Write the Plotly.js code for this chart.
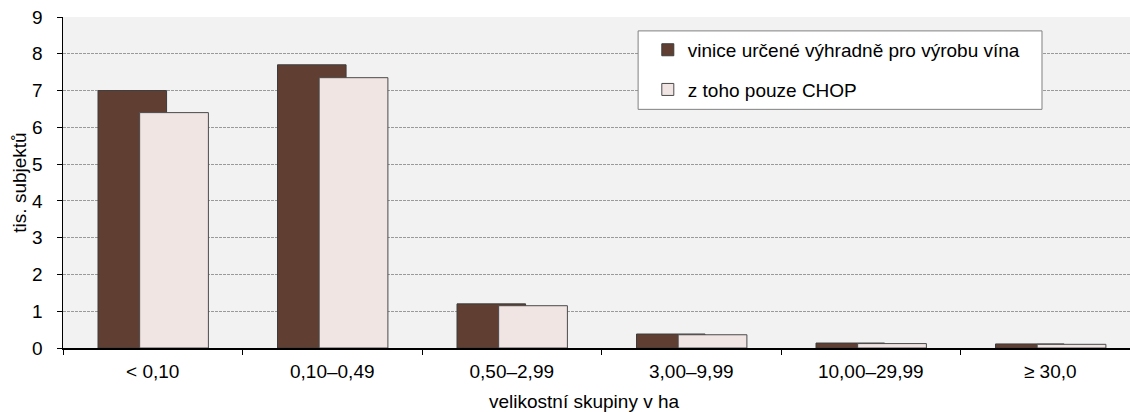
<!DOCTYPE html>
<html>
<head>
<meta charset="utf-8">
<script src="https://cdn.plot.ly/plotly-3.0.1.min.js"></script>
<style>
html,body{margin:0;padding:0;overflow:hidden;background:#fff;}
#chart{width:1140px;height:412px;}
</style>
</head>
<body>
<div id="chart"></div>
<script>
const categories = ['< 0,10', '0,10–0,49', '0,50–2,99', '3,00–9,99', '10,00–29,99', '≥ 30,0'];
const seriesNames = ['vinice určené výhradně pro výrobu vína', 'z toho pouze CHOP'];
const vinice = [7.0, 7.7, 1.2, 0.38, 0.135, 0.11];
const chop = [6.4, 7.35, 1.15, 0.36, 0.12, 0.10];
const yTitle = 'tis. subjektů';
const xTitle = 'velikostní skupiny v ha';

const FONT = 'Liberation Sans, Arial, sans-serif';

const traces = [
  {
    type: 'bar', name: seriesNames[0], x: categories, y: vinice,
    offset: -0.305, width: 0.382, legendgroup: 'a',
    marker: {color: '#603f32', line: {color: '#3c3c3c', width: 1}},
    hoverinfo: 'x+y'
  },
  {
    type: 'bar', name: seriesNames[1], x: categories, y: chop,
    offset: -0.073, width: 0.383, legendgroup: 'b',
    marker: {color: '#f0e5e3', line: {color: '#4a4a4a', width: 1}},
    hoverinfo: 'x+y'
  }
];

const layout = {
  width: 1140, height: 412,
  margin: {l: 63, r: 0, t: 17, b: 64, pad: 0},
  paper_bgcolor: '#ffffff',
  plot_bgcolor: '#f2f2f2',
  font: {family: FONT, size: 19, color: '#000'},
  barmode: 'overlay',
  showlegend: true,
  legend: {
    x: 0.543, xanchor: 'left', y: 0.958, yanchor: 'top',
    bgcolor: 'rgba(0,0,0,0)', borderwidth: 0,
    font: {family: FONT, size: 19, color: '#000'},
    traceorder: 'grouped', tracegroupgap: 12, itemwidth: 30
  },
  xaxis: {
    type: 'category', tickson: 'boundaries',
    ticks: 'outside', ticklen: 5, tickcolor: '#000', tickwidth: 1,
    showline: true, linecolor: '#000', linewidth: 1.5,
    showgrid: false, zeroline: false,
    ticklabelstandoff: 6,
    tickfont: {family: FONT, size: 19, color: '#000'},
    range: [-0.5, 5.5], fixedrange: true
  },
  yaxis: {
    range: [0, 9], dtick: 1, tick0: 0,
    ticks: 'outside', ticklen: 5, tickcolor: '#000',
    showline: true, linecolor: '#000', linewidth: 1.5,
    showgrid: true, gridcolor: '#9a9a9a', gridwidth: 1, griddash: '3px,1px',
    zeroline: false,
    ticklabelstandoff: 10,
    tickfont: {family: FONT, size: 19, color: '#000'},
    title: {text: yTitle, font: {family: FONT, size: 19, color: '#000'}, standoff: 0},
    automargin: false, fixedrange: true
  },
  shapes: [
    {type: 'rect', xref: 'paper', yref: 'paper',
     x0: 0.534, x1: 0.909, y0: 0.721, y1: 0.958,
     fillcolor: '#ffffff', line: {color: '#808080', width: 1}, layer: 'above'}
  ],
  annotations: [
    {text: xTitle, xref: 'paper', yref: 'paper', x: 0.4838, y: -0.162,
     xanchor: 'center', yanchor: 'middle', showarrow: false,
     font: {family: FONT, size: 19, color: '#000'}}
  ]
};

Plotly.newPlot('chart', traces, layout, {displayModeBar: false, staticPlot: true});
</script>
</body>
</html>
